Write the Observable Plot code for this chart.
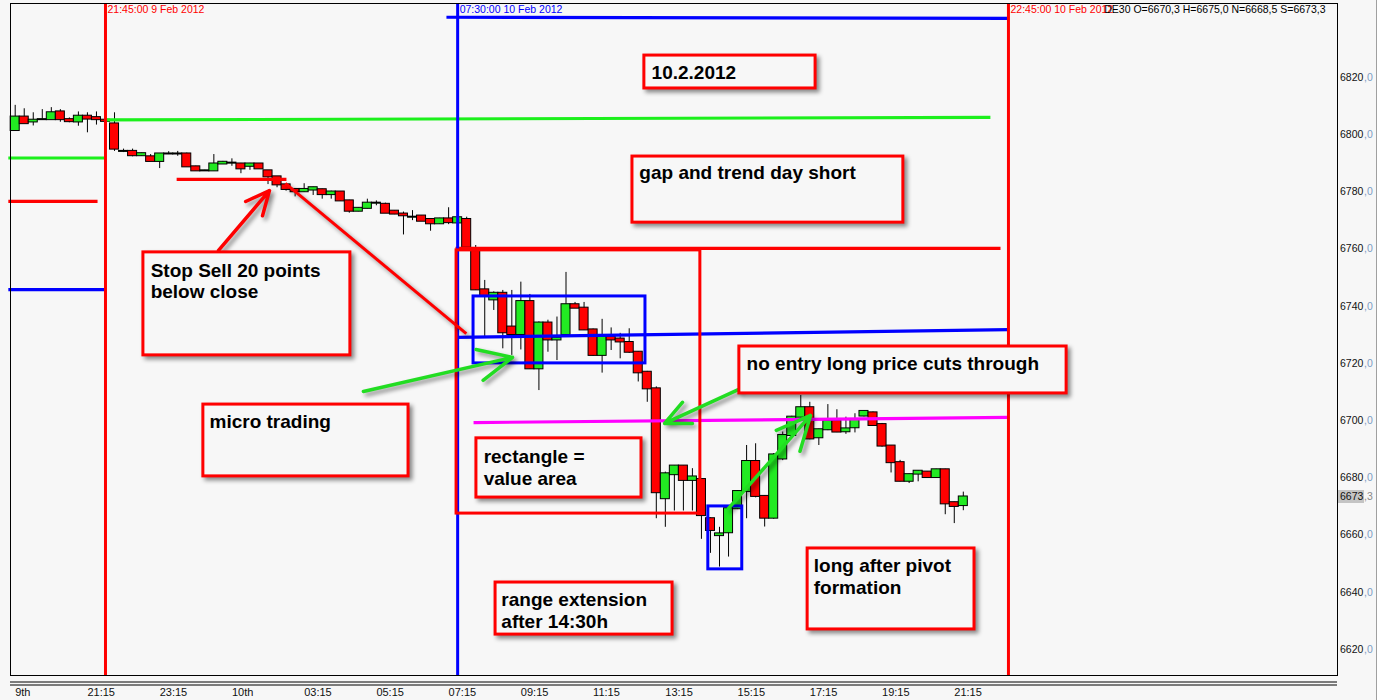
<!DOCTYPE html>
<html>
<head>
<meta charset="utf-8">
<script src="https://cdn.jsdelivr.net/npm/d3@7"></script>
<script src="https://cdn.jsdelivr.net/npm/@observablehq/plot@0.6"></script>
<style>
  html, body { margin: 0; padding: 0; background: #f7f7f7; overflow: hidden; }
  #chart svg { display: block; }
</style>
</head>
<body>
<div id="chart"></div>
<script>
// ---- DE30, 15-minute candles, 9 Feb 2012 19:15 -> 10 Feb 2012 21:30 ----
// time is expressed in hours after 9 Feb 2012 00:00
const FIRST_BAR_HOUR = 19.25;
const BAR_HOURS = 0.25;

const OPEN = [
  6801.4, 6806.1, 6804.4, 6805.2, 6805.2, 6807.9, 6805.2, 6804.4, 6806.4, 6805.9,
  6805.0, 6803.7, 6794.1, 6794.1, 6792.6, 6792.2, 6790.6, 6793.2, 6793.2, 6793.2,
  6788.7, 6787.3, 6787.3, 6789.7, 6790.0, 6789.7, 6788.9, 6789.7, 6787.3, 6785.2,
  6782.4, 6780.8, 6780.0, 6780.6, 6780.7, 6779.0, 6779.9, 6776.8, 6773.2, 6774.2,
  6776.0, 6775.6, 6773.2, 6772.2, 6771.1, 6771.5, 6770.3, 6768.8, 6770.5, 6769.1,
  6770.3, 6759.1, 6745.7, 6742.2, 6744.5, 6732.7, 6730.1, 6741.6, 6718.1, 6734.1,
  6728.2, 6730.1, 6740.5, 6739.3, 6731.7, 6722.8, 6729.2, 6728.5, 6727.3, 6723.9,
  6716.9, 6711.1, 6672.7, 6681.1, 6684.1, 6679.1, 6679.4, 6665.7, 6659.8, 6660.8,
  6669.2, 6675.2, 6685.7, 6673.5, 6665.9, 6686.6, 6694.8, 6701.2, 6704.5, 6694.0,
  6696.8, 6699.8, 6696.1, 6697.5, 6701.6, 6702.7, 6698.6, 6691.1, 6685.3, 6678.8,
  6681.3, 6682.0, 6680.1, 6682.8, 6671.3, 6670.3
];
const HIGH = [
  6810.2, 6809.0, 6807.6, 6808.7, 6809.4, 6808.7, 6805.8, 6807.9, 6807.6, 6807.9,
  6805.2, 6807.6, 6794.9, 6794.9, 6793.5, 6793.0, 6793.3, 6794.0, 6794.1, 6793.5,
  6788.9, 6787.5, 6793.0, 6790.6, 6791.5, 6789.9, 6789.9, 6789.8, 6787.4, 6785.3,
  6782.5, 6781.0, 6782.8, 6781.6, 6780.9, 6780.2, 6780.0, 6777.0, 6774.4, 6777.4,
  6776.8, 6776.0, 6773.3, 6772.9, 6773.4, 6771.6, 6770.5, 6770.7, 6774.4, 6771.0,
  6771.1, 6761.2, 6749.0, 6745.0, 6745.5, 6745.5, 6748.4, 6744.1, 6734.5, 6735.1,
  6736.2, 6751.8, 6741.3, 6741.3, 6732.0, 6735.4, 6732.4, 6730.5, 6732.1, 6724.1,
  6717.2, 6711.8, 6682.0, 6684.3, 6684.2, 6683.2, 6679.6, 6666.0, 6662.7, 6669.5,
  6675.5, 6691.3, 6691.9, 6673.6, 6688.5, 6696.0, 6701.5, 6708.8, 6706.4, 6697.0,
  6705.6, 6703.8, 6701.2, 6702.4, 6703.5, 6703.0, 6699.0, 6691.2, 6686.1, 6681.3,
  6682.5, 6682.2, 6683.0, 6683.0, 6671.5, 6675.0
];
const LOW = [
  6801.2, 6803.8, 6803.0, 6805.2, 6805.2, 6804.3, 6804.1, 6802.9, 6800.6, 6803.3,
  6803.8, 6794.1, 6793.7, 6792.2, 6792.4, 6790.6, 6788.1, 6793.0, 6792.4, 6788.7,
  6787.3, 6787.3, 6787.3, 6789.6, 6788.9, 6786.3, 6787.5, 6788.0, 6782.5, 6781.4,
  6780.2, 6778.2, 6779.8, 6778.7, 6777.4, 6777.4, 6776.6, 6772.5, 6773.0, 6774.0,
  6775.1, 6772.5, 6772.0, 6764.9, 6769.9, 6769.7, 6766.2, 6768.6, 6768.5, 6769.0,
  6760.5, 6745.5, 6729.2, 6738.5, 6725.1, 6722.8, 6724.7, 6718.0, 6710.5, 6723.9,
  6721.0, 6730.0, 6739.2, 6731.5, 6722.5, 6716.6, 6724.5, 6721.6, 6723.5, 6713.5,
  6706.4, 6665.7, 6662.7, 6668.4, 6668.4, 6668.4, 6658.5, 6653.6, 6648.8, 6652.3,
  6668.9, 6665.7, 6673.0, 6662.8, 6665.5, 6686.0, 6694.5, 6701.0, 6693.3, 6691.3,
  6696.5, 6695.8, 6695.2, 6695.7, 6701.3, 6698.0, 6690.7, 6681.7, 6678.6, 6678.0,
  6678.6, 6680.0, 6679.8, 6667.1, 6664.0, 6668.5
];
const CLOSE = [
  6806.1, 6803.8, 6805.0, 6805.2, 6807.6, 6805.2, 6804.5, 6806.4, 6805.4, 6805.2,
  6804.6, 6794.9, 6794.1, 6792.6, 6793.3, 6790.6, 6793.2, 6793.2, 6793.2, 6788.7,
  6787.3, 6787.3, 6789.7, 6790.3, 6790.0, 6788.0, 6789.7, 6788.0, 6785.2, 6782.4,
  6780.8, 6780.0, 6780.8, 6781.4, 6779.0, 6779.9, 6776.8, 6773.2, 6774.2, 6776.0,
  6776.0, 6772.5, 6772.2, 6771.6, 6771.1, 6769.7, 6768.8, 6770.5, 6769.2, 6770.9,
  6760.6, 6745.7, 6743.7, 6744.5, 6730.7, 6730.1, 6741.6, 6718.1, 6734.1, 6728.2,
  6728.8, 6740.5, 6739.3, 6731.7, 6722.8, 6729.2, 6728.2, 6727.5, 6723.9, 6716.7,
  6711.1, 6674.8, 6681.4, 6684.1, 6679.1, 6680.3, 6666.8, 6661.6, 6660.4, 6669.2,
  6675.2, 6685.7, 6673.5, 6665.9, 6688.0, 6694.8, 6701.2, 6704.5, 6693.6, 6696.8,
  6699.8, 6696.0, 6697.1, 6700.1, 6703.2, 6698.3, 6691.1, 6685.3, 6678.8, 6681.1,
  6682.3, 6680.1, 6682.8, 6670.9, 6670.0, 6673.3
];

// x axis ticks (hours after 9 Feb 00:00) and their labels
const X_TICK_HOURS = [19.25, 21.25, 23.25, 25.25, 27.25, 29.25, 31.25, 33.25, 35.25, 37.25, 39.25, 41.25, 43.25, 45.25];
const X_TICK_LABELS = ["9th", "21:15", "23:15", "10th", "03:15", "05:15", "07:15", "09:15", "11:15", "13:15", "15:15", "17:15", "19:15", "21:15"];
// y axis ticks
const Y_TICKS = [6620, 6640, 6660, 6680, 6700, 6720, 6740, 6760, 6780, 6800, 6820];

// session markers
const SESSION_LINES = [
  {hour: 21.75, label: "21:45:00 9 Feb 2012", kind: "end"},
  {hour: 31.5, label: "07:30:00 10 Feb 2012", kind: "start"},
  {hour: 46.75, label: "22:45:00 10 Feb 2012", kind: "end"}
];

// drawn price levels: from/to hour, start/end price
const LEVELS = [
  {from: 19.06, to: 21.72, start: 6791.8, end: 6791.8, kind: "high"},
  {from: 19.06, to: 21.53, start: 6776.6, end: 6776.6, kind: "close"},
  {from: 19.06, to: 21.72, start: 6745.8, end: 6745.8, kind: "open"},
  {from: 21.75, to: 46.25, start: 6805.1, end: 6806.0, kind: "high"},
  {from: 31.19, to: 46.75, start: 6841.0, end: 6840.6, kind: "open"},
  {from: 31.44, to: 46.53, start: 6760.2, end: 6760.2, kind: "close"},
  {from: 31.44, to: 46.75, start: 6729.1, end: 6731.8, kind: "open"},
  {from: 31.94, to: 46.75, start: 6699.3, end: 6701.1, kind: "pivot"},
  {from: 23.72, to: 26.76, start: 6784.3, end: 6784.3, kind: "close"}
];

// marked zones
const ZONES = [
  {from: 31.47, to: 38.22, top: 6759.5, bottom: 6667.5, kind: "value"},
  {from: 31.94, to: 36.70, top: 6743.4, bottom: 6720.0, kind: "micro"},
  {from: 38.44, to: 39.38, top: 6670.0, bottom: 6648.0, kind: "pivot"}
];

// text notes: box extent and text anchor
const NOTES = [
  {from: 36.67, to: 41.41, top: 6827.6, bottom: 6816.1, textHour: 36.87, textPrice: 6822.0, text: "10.2.2012"},
  {from: 36.34, to: 43.84, top: 6792.3, bottom: 6769.2, textHour: 36.53, textPrice: 6787.0, text: "gap and trend day short"},
  {from: 22.80, to: 28.53, top: 6758.8, bottom: 6722.8, textHour: 23.00, textPrice: 6749.0, text: "Stop Sell 20 points\nbelow close"},
  {from: 24.46, to: 30.14, top: 6705.6, bottom: 6680.5, textHour: 24.63, textPrice: 6699.8, text: "micro trading"},
  {from: 32.02, to: 36.59, top: 6693.8, bottom: 6673.1, textHour: 32.22, textPrice: 6683.8, text: "rectangle =\nvalue area"},
  {from: 39.30, to: 48.36, top: 6725.9, bottom: 6709.5, textHour: 39.50, textPrice: 6720.2, text: "no entry long price cuts through"},
  {from: 32.55, to: 37.45, top: 6643.4, bottom: 6625.2, textHour: 32.71, textPrice: 6633.7, text: "range extension\nafter 14:30h"},
  {from: 41.19, to: 45.81, top: 6655.3, bottom: 6627.0, textHour: 41.36, textPrice: 6645.8, text: "long after pivot\nformation"}
];

// arrows and connector lines
const POINTERS = [
  {h1: 24.88, p1: 6759.5, h2: 26.29, p2: 6780.4, kind: "stop", head: true},
  {h1: 26.73, p1: 6782.9, h2: 31.74, p2: 6730.4, kind: "stop", head: false},
  {h1: 28.89, p1: 6710.2, h2: 33.02, p2: 6722.1, kind: "entry", head: true},
  {h1: 39.33, p1: 6711.2, h2: 37.23, p2: 6699.0, kind: "entry", head: true},
  {h1: 39.00, p1: 6669.3, h2: 41.27, p2: 6701.8, kind: "entry", head: true}
];

const SYMBOL = "DE30";
const X_DOMAIN = [19.12, 55.86];
const Y_DOMAIN = [6610.9, 6845.8];

// ---------------------------------------------------------------
const RED = "#ff0000", BLUE = "#0000ff", GREEN_LINE = "#1cf01c", MAGENTA = "#ff00ff";
const UP = "#22ea22", DOWN = "#ff0000";
const levelColor = {high: GREEN_LINE, close: RED, open: BLUE, pivot: MAGENTA};
const zoneColor = {value: RED, micro: BLUE, pivot: BLUE};
const pointerColor = {stop: RED, entry: "#22dd22"};
const sessionColor = {start: BLUE, end: RED};
const FONT = "'Liberation Sans', Arial, sans-serif";

const bars = OPEN.map((o, i) => ({
  hour: FIRST_BAR_HOUR + BAR_HOURS * i, o, h: HIGH[i], l: LOW[i], c: CLOSE[i]
}));
const last = bars[bars.length - 1];
const fmt = v => v.toFixed(1).replace(".", ",");
const header = `${SYMBOL} O=${fmt(last.o)} H=${fmt(last.h)} N=${fmt(last.l)} S=${fmt(last.c)}`;
const xTicks = X_TICK_HOURS.map((h, i) => ({h, label: X_TICK_LABELS[i]}));

const chart = Plot.plot({
  width: 1376,
  height: 700,
  marginLeft: 10,
  marginRight: 39,
  marginTop: 3,
  marginBottom: 25,
  x: {domain: X_DOMAIN, axis: null},
  y: {domain: Y_DOMAIN, axis: null},
  style: {background: "#f7f7f7", overflow: "visible", fontFamily: FONT, borderRight: "1px solid #a0a0a0"},
  marks: [
    // candles
    Plot.ruleX(bars, {x: "hour", y1: "l", y2: "h", stroke: "#000", strokeWidth: 1}),
    Plot.rect(bars, {
      x1: d => d.hour - BAR_HOURS / 2, x2: d => d.hour + BAR_HOURS / 2,
      y1: d => Math.min(d.o, d.c), y2: d => Math.max(d.o, d.c),
      insetTop: -0.5, insetBottom: -0.5,
      fill: d => d.c >= d.o ? UP : DOWN, stroke: "#000", strokeWidth: 1
    }),
    // levels
    Plot.link(LEVELS, {x1: "from", x2: "to", y1: "start", y2: "end",
      stroke: d => levelColor[d.kind], strokeWidth: 3.2}),
    // session lines
    Plot.ruleX(SESSION_LINES, {x: "hour", stroke: d => sessionColor[d.kind], strokeWidth: 3}),
    Plot.text(SESSION_LINES, {x: "hour", text: "label", frameAnchor: "top", textAnchor: "start",
      lineAnchor: "top", dx: 2, dy: 2.5, fontSize: 10.5, fill: d => sessionColor[d.kind]}),
    // header
    Plot.text([header], {text: d => d, frameAnchor: "top-right", textAnchor: "end", lineAnchor: "top",
      dx: -12, dy: 2.5, fontSize: 10.5, fill: "#000"}),
    // zones
    Plot.rect(ZONES, {x1: "from", x2: "to", y1: "bottom", y2: "top", fill: "none",
      stroke: d => zoneColor[d.kind], strokeWidth: 3}),
    // pointers
    Plot.link(POINTERS.filter(d => !d.head), {x1: "h1", y1: "p1", x2: "h2", y2: "p2",
      stroke: d => pointerColor[d.kind], strokeWidth: 3, ariaDescription: "pointer"}),
    Plot.arrow(POINTERS.filter(d => d.head), {x1: "h1", y1: "p1", x2: "h2", y2: "p2",
      stroke: d => pointerColor[d.kind], strokeWidth: 3.5, headLength: 16, headAngle: 50,
      ariaDescription: "pointer"}),
    // notes
    Plot.rect(NOTES, {x1: "from", x2: "to", y1: "bottom", y2: "top", fill: "#f7f7f7",
      stroke: RED, strokeWidth: 3, ariaDescription: "note-box"}),
    Plot.text(NOTES, {x: "textHour", y: "textPrice", text: "text", textAnchor: "start",
      lineAnchor: "middle", lineHeight: 1.15, fontSize: 19, fontWeight: "bold", fill: "#000"}),
    // frame
    Plot.frame({stroke: "#000", strokeWidth: 1}),
    // bottom axis double line
    Plot.ruleY([Y_DOMAIN[0]], {dy: 6.5, stroke: "#000"}),
    Plot.ruleY([Y_DOMAIN[0]], {dy: 9.5, stroke: "#000"}),
    // x tick labels
    Plot.text(xTicks, {x: "h", text: "label", frameAnchor: "bottom", textAnchor: "start",
      lineAnchor: "top", dy: 13, fontSize: 11, fill: "#111"}),
    // y tick labels
    Plot.text(Y_TICKS, {y: d => d, text: d => String(d), frameAnchor: "right", textAnchor: "start",
      dx: 2.5, fontSize: 10.5, fill: "#111"}),
    Plot.text(Y_TICKS, {y: d => d, text: () => ",0", frameAnchor: "right", textAnchor: "start",
      dx: 26.5, fontSize: 10.5, fill: "#7c9cc4"}),
    // last price marker
    Plot.rect([last], {x1: () => X_DOMAIN[1], x2: () => X_DOMAIN[1], y1: "c", y2: "c",
      insetLeft: 1, insetRight: -27, insetTop: -6.5, insetBottom: -6.5, fill: "#c4c4c4"}),
    Plot.text([last], {y: "c", text: d => String(Math.floor(d.c)), frameAnchor: "right",
      textAnchor: "start", dx: 2.5, fontSize: 10.5, fill: "#111"}),
    Plot.text([last], {y: "c", text: d => "," + fmt(d.c).split(",")[1], frameAnchor: "right",
      textAnchor: "start", dx: 26.5, fontSize: 10.5, fill: "#8a8a8a"})
  ]
});

d3.select(chart).selectAll('g[aria-description="note-box"], g[aria-description="pointer"]')
  .style("filter", "drop-shadow(3px 3px 2px rgba(0,0,0,0.45))");

document.getElementById("chart").appendChild(chart);
</script>
</body>
</html>
